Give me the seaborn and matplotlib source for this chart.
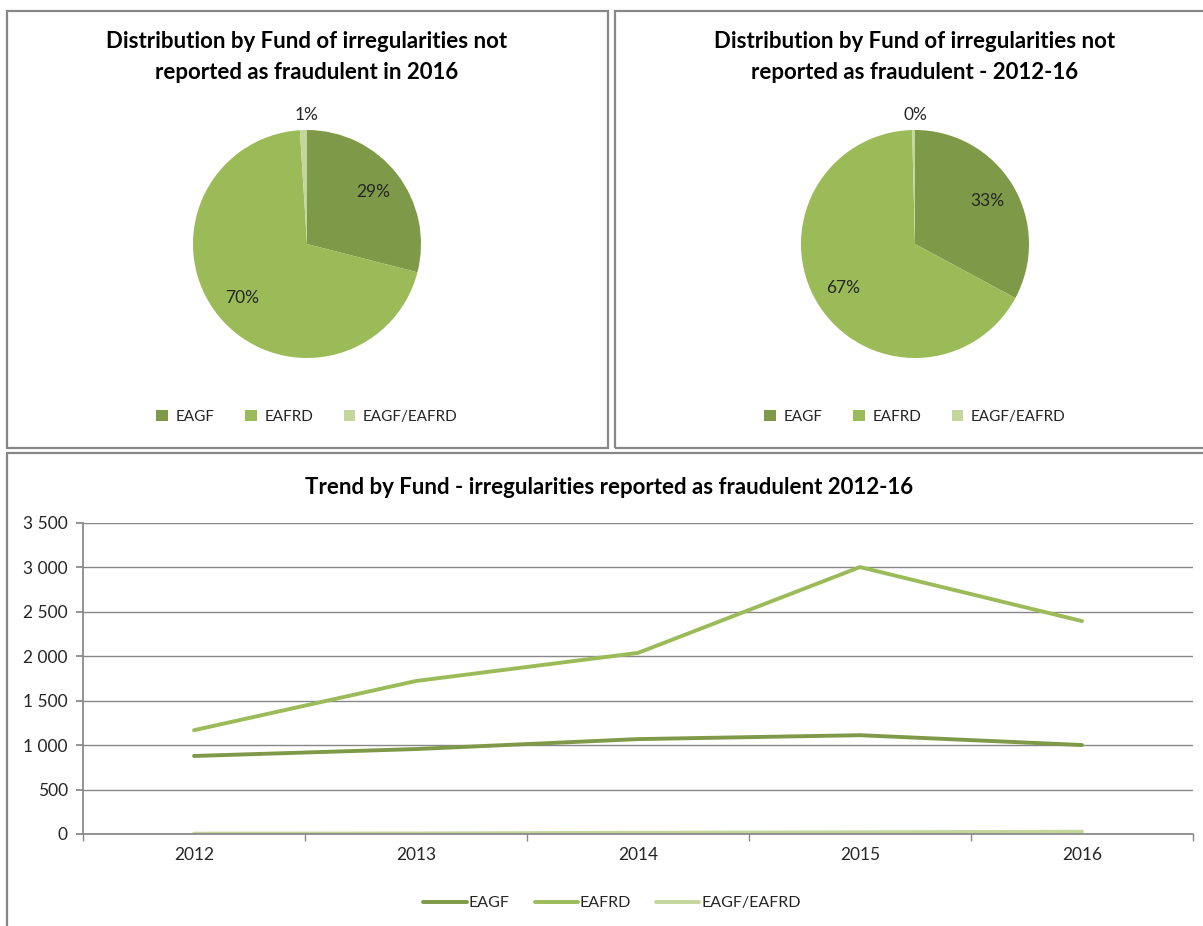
import matplotlib
matplotlib.use('Agg')

import matplotlib.pyplot as plt
import seaborn as sns
import pandas as pd
from matplotlib.patches import Rectangle
from matplotlib.lines import Line2D
from matplotlib.ticker import FuncFormatter, FixedLocator

# Data
FUNDS = ['EAGF', 'EAFRD', 'EAGF/EAFRD']
SHARE_2016 = [29, 70, 1]
SHARE_2012_16 = [33, 67, 0.4]
YEARS = ['2012', '2013', '2014', '2015', '2016']
EAGF = [878, 956, 1068, 1112, 1001]
EAFRD = [1168, 1722, 2038, 3004, 2396]
EAGF_EAFRD = [4, 6, 14, 19, 26]

COLORS = ['#7E9A48', '#9BBB59', '#C3D69B']
BORDER = '#878787'
TEXT = '#262626'

sns.set_theme(style='white')
plt.rcParams['font.family'] = ['Lato', 'DejaVu Sans']
plt.rcParams['text.color'] = TEXT

W, H = 1203, 926
fig = plt.figure(figsize=(W / 100, H / 100), dpi=100, facecolor='white')


def px_box(x0, y0, x1, y1):
    """Convert pixel box (top-left origin) to figure fraction rect."""
    return [x0 / W, 1 - y1 / H, (x1 - x0) / W, (y1 - y0) / H]


# panel borders
for (x0, y0, x1, y1) in [(7, 11, 608, 448), (615, 11, 1210, 448), (7, 453, 1210, 940)]:
    l, b, w, h = px_box(x0, y0, x1, y1)
    fig.patches.append(Rectangle((l, b), w, h, transform=fig.transFigure,
                                 fill=False, edgecolor=BORDER, linewidth=1.6))


def draw_pie(cx, shares, title):
    r = 114
    half = 150
    ax = fig.add_axes(px_box(cx - half, 244 - half, cx + half, 244 + half))
    wedges, texts, autotexts = ax.pie(
        shares, colors=COLORS, startangle=90, counterclock=False,
        autopct='%1.0f%%', pctdistance=0.74,
        wedgeprops={'linewidth': 0},
        textprops={'fontsize': 12.5, 'color': TEXT})
    # small slice label goes outside
    autotexts[2].set_position((0, 1.13))
    lim = half / r
    ax.set_xlim(-lim, lim)
    ax.set_ylim(-lim, lim)
    ax.set_aspect('equal')
    ax.axis('off')
    fig.text(cx / W, 1 - 57 / H, title, ha='center', va='center',
             fontsize=16, fontweight='bold', color='black', linespacing=1.55)
    handles = [Rectangle((0, 0), 1, 1, facecolor=c, edgecolor='none') for c in COLORS]
    fig.legend(handles, FUNDS, loc='center', bbox_to_anchor=(cx / W, 1 - 417 / H),
               ncol=3, frameon=False, fontsize=11, handlelength=0.75, handleheight=0.75,
               handletextpad=0.5, columnspacing=2.0)


draw_pie(307, SHARE_2016,
         'Distribution by Fund of irregularities not\nreported as fraudulent in 2016')
draw_pie(915, SHARE_2012_16,
         'Distribution by Fund of irregularities not\nreported as fraudulent - 2012-16')

# Trend line chart
df = pd.DataFrame({
    'year': YEARS * 3,
    'value': EAGF + EAFRD + EAGF_EAFRD,
    'fund': [FUNDS[0]] * 5 + [FUNDS[1]] * 5 + [FUNDS[2]] * 5,
})
ax = fig.add_axes(px_box(83, 523, 1193, 834))
sns.lineplot(data=df, x='year', y='value', hue='fund', palette=COLORS,
             linewidth=2.8, ax=ax, legend=False, sort=False)
ax.set_xlim(-0.5, 4.5)
ax.set_ylim(0, 3500)
ax.set_xlabel('')
ax.set_ylabel('')
ax.yaxis.set_major_locator(FixedLocator(range(0, 3501, 500)))
ax.yaxis.set_major_formatter(FuncFormatter(lambda v, p: f'{int(v):,}'.replace(',', ' ')))
ax.grid(axis='y', color=BORDER, linewidth=1.0)
ax.grid(axis='x', visible=False)
ax.set_axisbelow(True)
for s in ['top', 'right']:
    ax.spines[s].set_visible(False)
ax.spines['left'].set_color(BORDER)
ax.spines['bottom'].set_color(BORDER)
ax.xaxis.set_minor_locator(FixedLocator([i - 0.5 for i in range(6)]))
ax.tick_params(axis='x', which='major', length=0, labelsize=12.5, colors=TEXT, pad=9)
ax.tick_params(axis='x', which='minor', length=5, color=BORDER, direction='out', bottom=True)
ax.tick_params(axis='y', length=5, color=BORDER, direction='out', left=True,
               labelsize=12.5, labelcolor=TEXT, pad=6)

fig.text(609 / W, 1 - 487 / H, 'Trend by Fund - irregularities reported as fraudulent 2012-16',
         ha='center', va='center', fontsize=16, fontweight='bold', color='black')

line_handles = [Line2D([0], [0], color=c, linewidth=2.8) for c in COLORS]
fig.legend(line_handles, FUNDS, loc='center', bbox_to_anchor=(612 / W, 1 - 903 / H),
           ncol=3, frameon=False, fontsize=11.5, handlelength=2.7, handletextpad=0.1,
           columnspacing=1.6)

fig.savefig('out.png', dpi=100, facecolor='white')
